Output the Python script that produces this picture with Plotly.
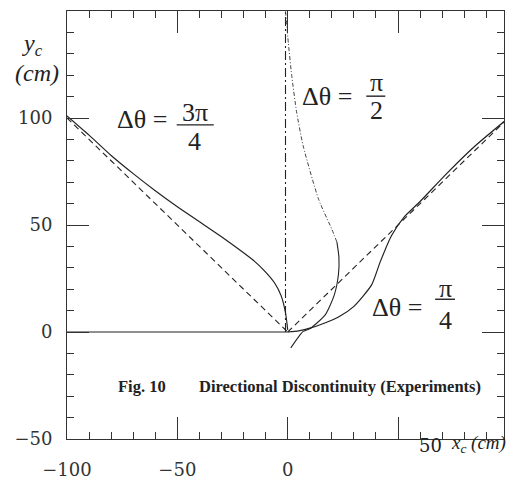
import plotly.graph_objects as go

# ---------------- data ----------------
# incoming straight path along the x axis
base_x = [-100, 0]
base_y = [0, 0]

# delta theta = 3pi/4
line34_x = [-100, 0]
line34_y = [100, 0]
curve34_x = [-100, -90, -80, -70, -60, -50, -40, -30, -20, -15, -10, -6, -3, -1, 0]
curve34_y = [101, 92, 82.5, 74, 66, 58.5, 51.5, 44.5, 37, 33, 28, 23, 17, 9, 1]

# delta theta = pi/2
line12_x = [-1, -1]
line12_y = [0, 150]
curve12_low_x = [1.4, 5.5, 7, 10, 17, 21, 23, 23.2, 22.3]
curve12_low_y = [-7.4, -1.5, 0.3, 1.5, 8, 17, 27, 35, 42]
curve12_up_x = [22.3, 20, 14, 7, 4, 1.8, 0.3, -1]
curve12_up_y = [42, 48, 62, 87, 103, 120, 135, 150]

# delta theta = pi/4
line14_x = [0, 100]
line14_y = [0, 100]
curve14_x = [0, 5, 10, 15, 23, 30, 38, 42, 47, 53, 60, 72, 85, 100]
curve14_y = [0, 0.5, 1.8, 3.5, 7, 12, 22, 33, 45, 54, 61, 74, 87, 100]

x_tick_vals = [-100, -50, 0, 50]
x_tick_text = ["\u2212100", "\u221250", "0", " "]
y_tick_vals = [-50, 0, 50, 100]
y_tick_text = ["\u221250", "0", "50", "100"]

INK = "#222222"
SERIF = "Liberation Serif"

fig = go.Figure()

def add(x, y, dash="solid", width=1.2, color=INK):
    fig.add_trace(go.Scatter(x=x, y=y, mode="lines", showlegend=False,
                             line=dict(color=color, width=width, dash=dash, shape="spline", smoothing=0.6),
                             hoverinfo="skip"))

add(base_x, base_y)
add(line34_x, line34_y, dash="6px,4px", width=1.1)
add(curve34_x, curve34_y)
add(line12_x, line12_y, dash="9px,3px,2px,3px", width=1.1)
add(curve12_low_x, curve12_low_y, width=1.1)
add(curve12_up_x, curve12_up_y, dash="4px,2px,1px,2px", width=1.0, color="#444444")
add(line14_x, line14_y, dash="6px,4px", width=1.1)
add(curve14_x, curve14_y)

axis_common = dict(
    showline=True, linecolor="#333333", linewidth=1, mirror="allticks",
    ticks="inside", ticklen=22, tickwidth=1, tickcolor="#333333",
    showgrid=False, zeroline=False,
    tickfont=dict(family="DejaVu Serif", size=18, color="#333333"),
    minor=dict(dtick=10, ticks="inside", ticklen=7, tickwidth=1, tickcolor="#333333", showgrid=False),
)

fig.update_xaxes(range=[-100, 98], tickmode="array", tickvals=x_tick_vals, ticktext=x_tick_text,
                 ticklabelstandoff=14, **axis_common)
fig.update_yaxes(range=[-50, 150], tickmode="array", tickvals=y_tick_vals, ticktext=y_tick_text,
                 ticklabelstandoff=10, **axis_common)

ann = []
def txt(x, y, s, size=26, xref="x", yref="y", family=SERIF, **kw):
    ann.append(dict(x=x, y=y, xref=xref, yref=yref, text=s, showarrow=False,
                    font=dict(family=family, size=size, color=INK), **kw))

# 3pi/4 label
txt(-66.1, 99.5, "\u0394\u03b8 =")
txt(-42.2, 102.5, "3\u03c0")
txt(-42.2, 88.9, "4")
# pi/2 label
txt(18.0, 110.2, "\u0394\u03b8 =")
txt(40.1, 116.7, "\u03c0")
txt(40.1, 103.5, "2")
# pi/4 label
txt(49.6, 11.6, "\u0394\u03b8 =")
txt(71.3, 20.5, "\u03c0")
txt(71.3, 5.6, "4")

# caption
txt(-66.1, -25.4, "<b>Fig. 10</b>", size=16.5)
txt(23.9, -25.4, "<b>Directional Discontinuity (Experiments)</b>", size=16.5)

# axis titles
txt(-0.050, 0.961, "<i>y<sub>c</sub></i>", xref="paper", yref="paper", size=24, xanchor="right")
txt(-0.014, 0.891, "<i>(cm)</i>", xref="paper", yref="paper", size=24, xanchor="right")
txt(64.5, -0.045, "50", xref="x", yref="paper", family="DejaVu Serif", size=18)
txt(1.009, -0.045, "<i>x<sub>c</sub> (cm)</i>", xref="paper", yref="paper", size=19, xanchor="right")

bar = dict(color=INK, width=1.4)
shapes = [
    dict(type="line", xref="x", yref="y", x0=-50.3, x1=-33.5, y0=96.8, y1=96.8, line=bar),
    dict(type="line", xref="x", yref="y", x0=35.6, x1=44.2, y0=110.2, y1=110.2, line=bar),
    dict(type="line", xref="x", yref="y", x0=66.8, x1=75.8, y0=15.3, y1=15.3, line=bar),
]

fig.update_layout(width=510, height=485, margin=dict(l=67, r=5, t=11, b=42),
                  paper_bgcolor="white", plot_bgcolor="white",
                  annotations=ann, shapes=shapes, showlegend=False)

fig.write_html("out.html")
